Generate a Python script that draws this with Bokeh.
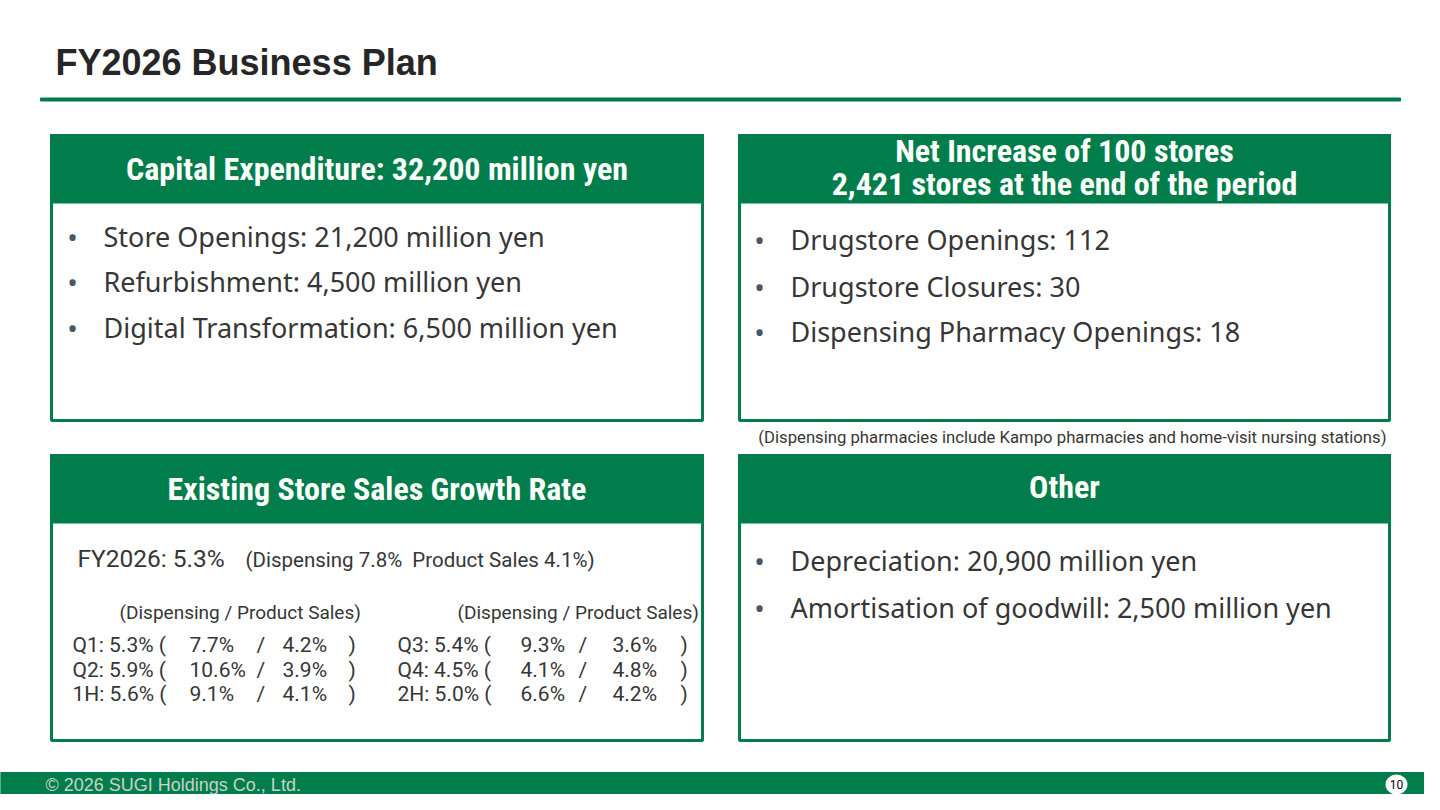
from bokeh.plotting import figure
from bokeh.models import Range1d
from bokeh.core.properties import value
from bokeh.embed import file_html
from bokeh.resources import INLINE

# slide content
page_title = "FY2026 Business Plan"
capex_title = "Capital Expenditure: 32,200 million yen"
capex_items = ["Store Openings: 21,200 million yen",
               "Refurbishment: 4,500 million yen",
               "Digital Transformation: 6,500 million yen"]
stores_title = ["Net Increase of 100 stores", "2,421 stores at the end of the period"]
stores_items = ["Drugstore Openings: 112",
                "Drugstore Closures: 30",
                "Dispensing Pharmacy Openings: 18"]
stores_note = "(Dispensing pharmacies include Kampo pharmacies and home-visit nursing stations)"
growth_title = "Existing Store Sales Growth Rate"
fy_total = 5.3
fy_dispensing = 7.8
fy_product = 4.1
periods_1 = ["Q1", "Q2", "1H"]
total_1 = [5.3, 5.9, 5.6]
dispensing_1 = [7.7, 10.6, 9.1]
product_1 = [4.2, 3.9, 4.1]
periods_2 = ["Q3", "Q4", "2H"]
total_2 = [5.4, 4.5, 5.0]
dispensing_2 = [9.3, 4.1, 6.6]
product_2 = [3.6, 4.8, 4.2]
other_title = "Other"
other_items = ["Depreciation: 20,900 million yen",
               "Amortisation of goodwill: 2,500 million yen"]
footer = "\u00a9 2026 SUGI Holdings Co., Ltd."
page_no = "10"

GREEN = "#007D4A"
DARK = "#262626"
BODY = "#363636"
HEAD_FONT = value("'Roboto Condensed', 'DejaVu Sans Condensed', Roboto, sans-serif")
BODY_FONT = value("Noto Sans")
SMALL_FONT = value("Roboto")

p = figure(width=1424, height=794, x_range=Range1d(0, 1424), y_range=Range1d(794, 0),
           output_backend="svg", toolbar_location=None, min_border=0)
p.axis.visible = False
p.grid.visible = False
p.outline_line_color = None
p.background_fill_color = "white"


def txt(x, y, s, size, color=BODY, font=BODY_FONT, style="normal", align="left"):
    p.text(x=[x], y=[y], text=[s], text_font=font, text_font_size=f"{size}px",
           text_color=color, text_font_style=style, text_align=align,
           text_baseline="middle")


# title and rule
txt(55, 62, page_title, 36, DARK, value("Liberation Sans"), "bold")
p.quad(left=[40], right=[1400], top=[97.5], bottom=[100.5], color=GREEN)


def panel(x0, x1, y0, y1, heads, head_y):
    p.quad(left=[x0], right=[x1], top=[y0], bottom=[y1], fill_color="white",
           line_color=GREEN, line_width=3)
    p.quad(left=[x0 - 1.5], right=[x1 + 1.5], top=[y0 - 1.5], bottom=[y0 + 68],
           fill_color=GREEN, line_color=None)
    for h, hy in zip(heads, head_y):
        txt((x0 + x1) / 2, hy, h, 32, "white", HEAD_FONT, "bold", "center")


def bullets(x, ys, items):
    for yy, s in zip(ys, items):
        txt(x + 6, yy, "\u2022", 28, "#4A5866", align="center")
        txt(x + 37, yy, s, 27)


panel(51, 702, 135, 420, [capex_title], [168])
bullets(66, [236, 281, 327], capex_items)

panel(739, 1389, 135, 420, stores_title, [150, 183])
bullets(753, [239, 286, 331], stores_items)
txt(1386, 437, stores_note, 16.7, font=SMALL_FONT, align="right")

panel(51, 702, 455, 740, [growth_title], [488])
txt(77, 558, f"FY2026: {fy_total:.1f}%", 24.5, font=SMALL_FONT)
txt(245, 559, f"(Dispensing {fy_dispensing:.1f}%\u00a0 Product Sales {fy_product:.1f}%)", 20.5,
    font=SMALL_FONT)


def quarter_block(x, head_x, cols, periods, tot, disp, prod):
    txt(head_x, 612, "(Dispensing / Product Sales)", 19, font=SMALL_FONT)
    for yy, per, t, d, pr in zip([644, 669, 693], periods, tot, disp, prod):
        txt(x, yy, f"{per}: {t:.1f}% (", 21, font=SMALL_FONT)
        txt(cols[0], yy, f"{d:.1f}%", 21, font=SMALL_FONT)
        txt(cols[1], yy, "/", 21, font=SMALL_FONT)
        txt(cols[2], yy, f"{pr:.1f}%", 21, font=SMALL_FONT)
        txt(cols[3], yy, ")", 21, font=SMALL_FONT)


quarter_block(72, 119, [189, 256, 282, 348], periods_1, total_1, dispensing_1, product_1)
quarter_block(397, 457, [520, 578, 612, 680], periods_2, total_2, dispensing_2, product_2)

panel(739, 1389, 455, 740, [other_title], [486])
bullets(753, [560, 607], other_items)

# footer
p.quad(left=[0], right=[1424], top=[772], bottom=[794], color=GREEN)
txt(45, 784, footer, 18, "#C8D3CC", value("Liberation Sans"))
p.ellipse(x=[1396], y=[784], width=[22], height=[20], fill_color="white", line_color=None)
txt(1396, 784, page_no, 12, "black", SMALL_FONT, align="center")

open("out.html", "w").write(file_html(p, INLINE))
